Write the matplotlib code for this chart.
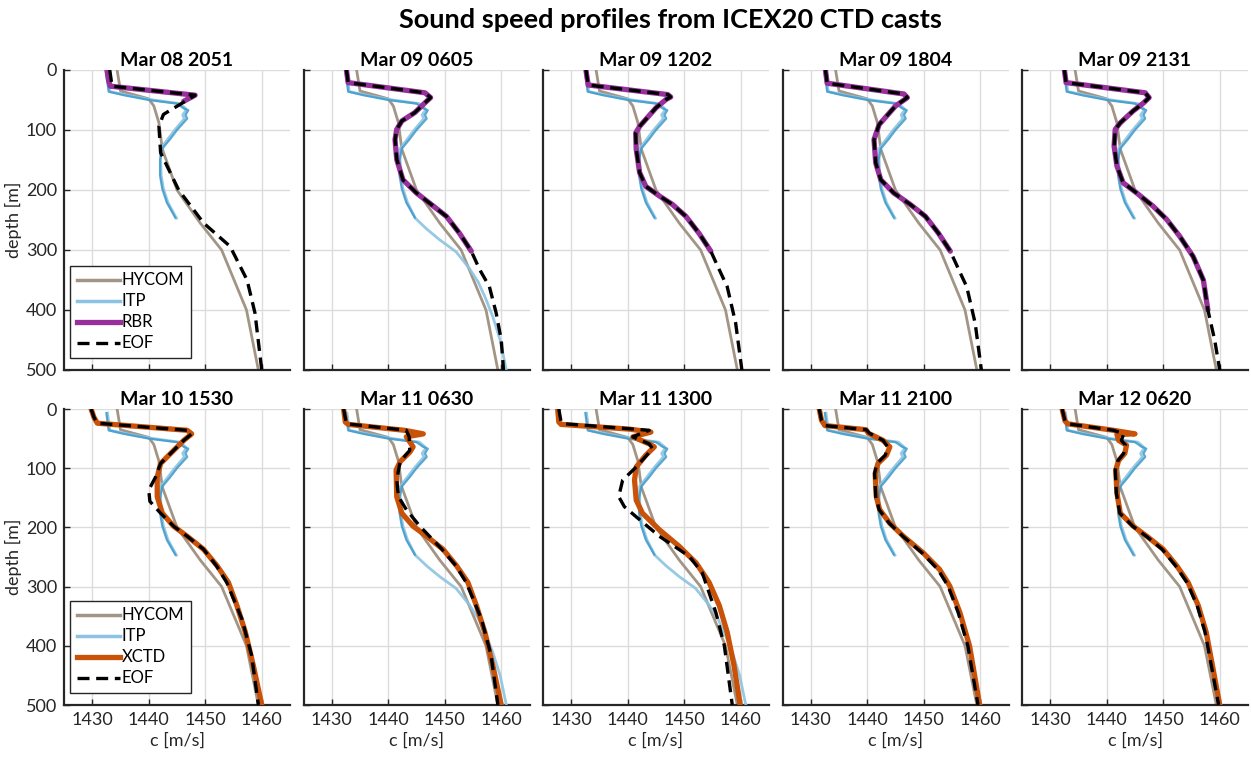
import matplotlib
matplotlib.use("Agg")
import matplotlib.pyplot as plt
from matplotlib.lines import Line2D

plt.rcParams['font.family'] = ['Lato', 'DejaVu Sans']

# ---------------- data ----------------
panel_titles = ["Mar 08 2051", "Mar 09 0605", "Mar 09 1202", "Mar 09 1804", "Mar 09 2131",
                "Mar 10 1530", "Mar 11 0630", "Mar 11 1300", "Mar 11 2100", "Mar 12 0620"]
ctd_type = ["RBR"] * 5 + ["XCTD"] * 5
itp_long_panels = [1, 6, 7]

x_ticks = [1430, 1440, 1450, 1460]
y_ticks = [0, 100, 200, 300, 400, 500]

# HYCOM model profile (same in every panel)
hycom_d = [0, 35, 48, 60, 88, 132, 200, 255, 300, 400, 500]
hycom_c = [1434.4, 1435.0, 1440.0, 1440.9, 1441.8, 1442.4, 1445.0, 1449.1, 1452.9, 1457.3, 1459.4]

# ITP profiles
itp_a_d = [7, 36, 42, 50, 56, 64, 67, 75, 81, 100, 115, 131, 150, 176, 198, 221, 246]
itp_a_c = [1432.5, 1432.9, 1435.6, 1440.0, 1445.0, 1446.2, 1447.0, 1446.5, 1446.8, 1445.0, 1443.8,
           1442.4, 1442.0, 1442.0, 1442.4, 1443.2, 1444.7]
itp_b_d = [7, 36, 42, 50, 56, 64, 67, 75, 81, 100, 115, 131, 150, 176, 198, 221, 247]
itp_b_c = [1432.7, 1433.1, 1436.2, 1440.8, 1445.5, 1446.5, 1446.6, 1446.0, 1446.3, 1444.6, 1443.4,
           1442.1, 1442.1, 1442.2, 1442.6, 1443.4, 1444.9]
itp_long_d = [7, 36, 42, 50, 56, 64, 67, 75, 81, 100, 115, 131, 150, 176, 198, 221, 247, 265, 283,
              303, 330, 353, 380, 411, 450, 500]
itp_long_c = [1432.7, 1433.1, 1436.2, 1440.8, 1445.5, 1446.5, 1446.6, 1446.0, 1446.3, 1444.6, 1443.4,
              1442.1, 1442.1, 1442.2, 1442.6, 1443.4, 1444.8, 1446.8, 1449.1, 1452.0, 1454.3, 1455.9,
              1457.2, 1458.5, 1459.8, 1460.9]

# CTD casts (RBR top row, XCTD bottom row)
ctd0_d = [0, 18, 27, 42, 52]
ctd0_c = [1432.6, 1432.9, 1433.2, 1448.2, 1446.2]
ctd1_d = [0, 21, 38, 46, 52, 71, 85, 99, 116, 149, 183, 205, 224, 244, 272, 302]
ctd1_c = [1432.6, 1432.9, 1446.5, 1447.5, 1446.8, 1444.7, 1442.4, 1441.5, 1441.2, 1441.5, 1442.6,
          1445.0, 1447.6, 1450.3, 1452.6, 1454.7]
ctd2_d = [0, 25, 41, 45, 49, 63, 94, 105, 132, 171, 194, 210, 224, 244, 272, 302]
ctd2_c = [1432.6, 1433.0, 1447.1, 1447.6, 1446.8, 1445.0, 1442.1, 1441.4, 1441.5, 1442.1, 1443.2,
          1445.6, 1447.9, 1450.3, 1452.6, 1454.7]
ctd3_d = [0, 22, 40, 46, 60, 91, 116, 155, 183, 205, 224, 244, 272, 302]
ctd3_c = [1432.6, 1432.9, 1446.5, 1447.1, 1445.0, 1442.1, 1441.2, 1441.5, 1442.4, 1444.7, 1447.6,
          1450.3, 1452.6, 1454.7]
ctd4_d = [0, 21, 38, 46, 55, 68, 88, 99, 127, 160, 188, 205, 227, 249, 277, 311, 350, 400]
ctd4_c = [1432.5, 1432.8, 1446.8, 1447.5, 1446.5, 1444.7, 1442.4, 1441.5, 1441.3, 1441.8, 1442.9,
          1445.3, 1448.2, 1450.6, 1452.9, 1455.3, 1457.1, 1457.9]
ctd5_d = [0, 14, 24, 36, 42, 53, 70, 92, 115, 148, 176, 198, 215, 237, 265, 293, 332, 377, 433, 500]
ctd5_c = [1429.8, 1430.3, 1430.9, 1446.8, 1447.6, 1446.2, 1444.4, 1442.1, 1441.5, 1441.5, 1442.4,
          1444.4, 1446.8, 1449.7, 1452.1, 1454.1, 1455.6, 1457.1, 1458.5, 1460.0]
ctd6_d = [0, 22, 26, 36, 42, 47, 64, 73, 89, 103, 148, 176, 198, 215, 237, 265, 293, 332, 377, 433, 500]
ctd6_c = [1432.1, 1432.4, 1432.9, 1442.9, 1446.2, 1443.2, 1444.4, 1443.8, 1442.1, 1441.4, 1441.5,
          1442.4, 1444.4, 1446.8, 1449.7, 1452.1, 1454.1, 1455.6, 1457.1, 1458.5, 1460.0]
ctd7_d = [0, 22, 26, 34, 39, 47, 59, 64, 78, 98, 120, 154, 176, 204, 232, 260, 293, 332, 377, 433, 500]
ctd7_c = [1427.6, 1427.8, 1428.2, 1440.3, 1444.1, 1440.9, 1443.8, 1444.7, 1443.2, 1441.5, 1441.2,
          1441.5, 1442.6, 1445.6, 1449.1, 1452.1, 1454.4, 1456.2, 1457.6, 1458.8, 1459.9]
ctd8_d = [0, 19, 28, 35, 41, 53, 64, 78, 92, 109, 148, 170, 193, 215, 243, 271, 299, 344, 400, 500]
ctd8_c = [1431.5, 1431.9, 1432.5, 1439.8, 1440.2, 1442.8, 1444.0, 1443.4, 1441.9, 1441.4, 1441.6,
          1442.2, 1444.0, 1446.4, 1449.9, 1452.8, 1454.6, 1456.4, 1458.1, 1459.9]
ctd9_d = [0, 20, 25, 36, 42, 43, 53, 61, 75, 87, 103, 142, 176, 198, 215, 237, 265, 293, 332, 377, 433, 500]
ctd9_c = [1432.1, 1432.6, 1433.1, 1441.2, 1445.0, 1441.8, 1442.1, 1443.5, 1443.2, 1442.1, 1441.6,
          1441.8, 1442.4, 1444.7, 1447.1, 1450.0, 1452.4, 1454.4, 1456.2, 1457.6, 1458.7, 1460.0]

# EOF reconstructions
eof0_d = [0, 27, 42, 57, 74, 94, 138, 200, 255, 294, 350, 405, 500]
eof0_c = [1433.1, 1433.5, 1448.2, 1445.6, 1442.6, 1441.8, 1442.1, 1445.3, 1449.7, 1454.4, 1457.4, 1458.8, 1460.0]
eof1_d = [0, 21, 38, 46, 52, 71, 85, 99, 116, 149, 183, 205, 224, 244, 272, 302, 333, 361, 405, 450, 500]
eof1_c = [1432.6, 1432.9, 1446.5, 1447.5, 1446.8, 1444.7, 1442.4, 1441.5, 1441.2, 1441.5, 1442.6,
          1445.0, 1447.6, 1450.3, 1452.6, 1454.7, 1456.2, 1457.9, 1459.1, 1460.0, 1460.4]
eof2_d = [0, 25, 41, 45, 49, 63, 94, 105, 132, 171, 194, 210, 224, 244, 272, 302, 339, 361, 422, 500]
eof2_c = [1432.6, 1433.0, 1447.1, 1447.6, 1446.8, 1445.0, 1442.1, 1441.4, 1441.5, 1442.1, 1443.2,
          1445.6, 1447.9, 1450.3, 1452.6, 1454.7, 1456.5, 1457.6, 1459.1, 1460.2]
eof3_d = [0, 22, 40, 46, 60, 91, 116, 155, 183, 205, 224, 244, 272, 302, 339, 361, 422, 500]
eof3_c = [1432.6, 1432.9, 1446.5, 1447.1, 1445.0, 1442.1, 1441.2, 1441.5, 1442.4, 1444.7, 1447.6,
          1450.3, 1452.6, 1454.7, 1456.5, 1457.6, 1459.1, 1460.2]
eof4_d = [0, 21, 38, 46, 55, 68, 88, 99, 127, 160, 188, 205, 227, 249, 277, 311, 350, 400, 450, 500]
eof4_c = [1432.5, 1432.8, 1446.8, 1447.5, 1446.5, 1444.7, 1442.4, 1441.5, 1441.3, 1441.8, 1442.9,
          1445.3, 1448.2, 1450.6, 1452.9, 1455.3, 1457.1, 1457.9, 1459.1, 1460.0]
eof5_d = [0, 14, 24, 36, 42, 53, 70, 92, 115, 137, 156, 176, 198, 215, 237, 265, 293, 355, 416, 500]
eof5_c = [1429.8, 1430.3, 1430.9, 1446.8, 1447.6, 1446.2, 1444.4, 1442.1, 1441.2, 1440.0, 1440.2,
          1442.1, 1444.4, 1446.8, 1449.7, 1452.0, 1453.8, 1456.5, 1458.2, 1459.4]
eof6_d = [0, 25, 36, 47, 70, 89, 120, 148, 170, 198, 237, 265, 293, 355, 416, 500]
eof6_c = [1432.1, 1432.6, 1443.2, 1443.7, 1443.8, 1442.1, 1441.5, 1441.8, 1443.2, 1445.6, 1449.5,
          1452.0, 1453.8, 1456.5, 1458.2, 1459.4]
eof7_d = [0, 22, 25, 36, 47, 59, 67, 98, 120, 148, 165, 187, 215, 249, 277, 344, 400, 500]
eof7_c = [1427.8, 1428.2, 1428.8, 1443.8, 1440.9, 1443.8, 1444.4, 1441.5, 1439.1, 1438.4, 1439.4,
          1442.1, 1445.6, 1450.9, 1453.2, 1455.6, 1457.1, 1458.5]
eof8_d = [0, 19, 28, 35, 41, 53, 64, 78, 92, 109, 148, 170, 193, 215, 243, 271, 299, 344, 400, 500]
eof8_c = [1431.5, 1431.9, 1432.5, 1439.8, 1440.4, 1442.8, 1443.6, 1443.2, 1441.7, 1441.3, 1441.5,
          1442.1, 1443.9, 1446.3, 1449.7, 1452.5, 1454.3, 1456.1, 1457.8, 1459.6]
eof9_d = [0, 20, 25, 36, 42, 53, 61, 75, 87, 103, 142, 176, 198, 215, 237, 265, 293, 332, 377, 433, 500]
eof9_c = [1432.1, 1432.6, 1433.1, 1441.2, 1443.0, 1442.6, 1443.3, 1443.0, 1442.0, 1441.5, 1441.7,
          1442.3, 1444.6, 1447.0, 1449.8, 1452.2, 1454.2, 1456.0, 1457.4, 1458.5, 1459.8]

ctd_d = [ctd0_d, ctd1_d, ctd2_d, ctd3_d, ctd4_d, ctd5_d, ctd6_d, ctd7_d, ctd8_d, ctd9_d]
ctd_c = [ctd0_c, ctd1_c, ctd2_c, ctd3_c, ctd4_c, ctd5_c, ctd6_c, ctd7_c, ctd8_c, ctd9_c]
eof_d = [eof0_d, eof1_d, eof2_d, eof3_d, eof4_d, eof5_d, eof6_d, eof7_d, eof8_d, eof9_d]
eof_c = [eof0_c, eof1_c, eof2_c, eof3_c, eof4_c, eof5_c, eof6_c, eof7_c, eof8_c, eof9_c]

# ---------------- style ----------------
c_hycom = '#a39585'
c_itp_dark = '#3f9acb'
c_itp_light = '#8cc3e2'
c_rbr = '#98309c'
c_xctd = '#c95108'
c_text = '#262626'
eof_dash = (0, (3.6, 2.0))

fig = plt.figure(figsize=(12.51, 7.57), dpi=100)
fig.text(670 / 1251, 1 - 20 / 757, "Sound speed profiles from ICEX20 CTD casts", fontsize=19.5,
         fontweight='bold', ha='center', va='center', color='black')

W, H = 1251, 757
col_left = [64, 303.5, 543, 782.5, 1022]
ax_w = 226
rows = [(70, 370), (409, 705)]

for i in range(10):
    r, k = divmod(i, 5)
    top, bot = rows[r]
    ax = fig.add_axes([col_left[k] / W, 1 - bot / H, ax_w / W, (bot - top) / H])
    ax.plot(hycom_c, hycom_d, color=c_hycom, lw=2.0, label='HYCOM', zorder=2)
    if i in itp_long_panels:
        ax.plot(itp_long_c, itp_long_d, color=c_itp_light, lw=2.0, alpha=0.9, zorder=3)
    else:
        ax.plot(itp_b_c, itp_b_d, color=c_itp_light, lw=2.0, alpha=0.9, zorder=3)
    ax.plot(itp_a_c, itp_a_d, color=c_itp_dark, lw=1.6, alpha=0.85, zorder=3)
    ccol = c_rbr if ctd_type[i] == 'RBR' else c_xctd
    ax.plot(ctd_c[i], ctd_d[i], color=ccol, lw=3.8, zorder=4, solid_capstyle='round',
            solid_joinstyle='round')
    ax.plot(eof_c[i], eof_d[i], color='black', lw=2.4, ls=eof_dash, zorder=5)

    ax.set_xlim(1425, 1465)
    ax.set_ylim(500, 0)
    ax.set_xticks(x_ticks)
    ax.set_yticks(y_ticks)
    ax.grid(True, color='#dcdcdc', lw=1.0)
    ax.set_axisbelow(True)
    for s in ['top', 'right']:
        ax.spines[s].set_visible(False)
    for s in ['left', 'bottom']:
        ax.spines[s].set_color(c_text)
        ax.spines[s].set_linewidth(1.6)
    ax.tick_params(direction='in', length=4, width=1.0, colors=c_text, labelsize=13,
                   labelcolor=c_text, pad=5)
    ax.set_title(panel_titles[i], fontsize=14, fontweight='bold', pad=3)
    if k != 0:
        ax.tick_params(labelleft=False)
    else:
        ax.set_ylabel('depth [m]', fontsize=13, color=c_text, labelpad=3)
    if r == 0:
        ax.tick_params(labelbottom=False)
    else:
        ax.set_xlabel('c [m/s]', fontsize=13, color=c_text, labelpad=3)
    if k == 0:
        handles = [Line2D([], [], color=c_hycom, lw=2.5),
                   Line2D([], [], color=c_itp_light, lw=2.5),
                   Line2D([], [], color=ccol, lw=3.8),
                   Line2D([], [], color='black', lw=2.4, ls=eof_dash)]
        leg = ax.legend(handles, ['HYCOM', 'ITP', ctd_type[i], 'EOF'], loc='lower left',
                        bbox_to_anchor=(6 / ax_w, 12 / (bot - top)), borderaxespad=0,
                        fontsize=12, frameon=True, fancybox=False, edgecolor=c_text,
                        handlelength=2.6, handletextpad=0.1, borderpad=0.4, labelspacing=0.3,
                        framealpha=1)
        leg.get_frame().set_linewidth(1.0)

fig.savefig('out.png', dpi=100)
